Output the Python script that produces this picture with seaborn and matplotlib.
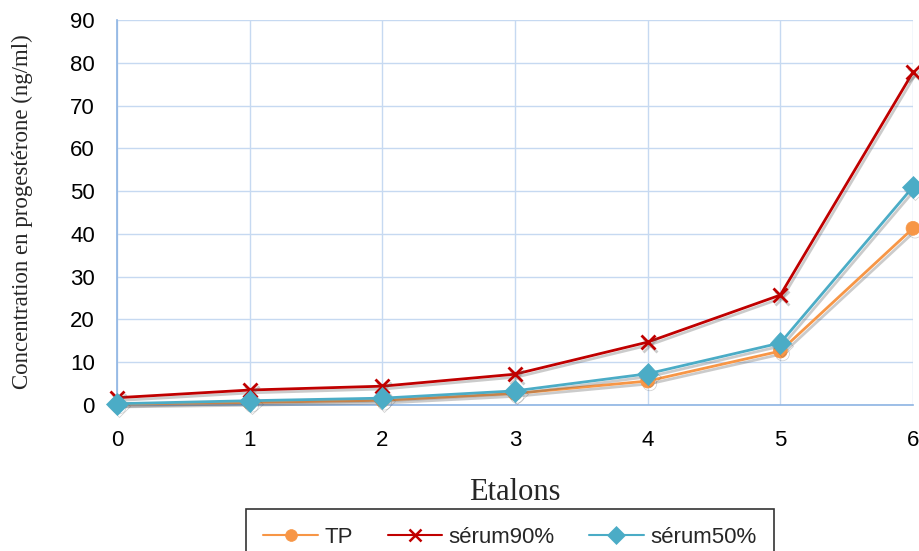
import matplotlib
matplotlib.use("Agg")
import matplotlib.pyplot as plt
import matplotlib.patheffects as pe
from matplotlib.lines import Line2D
import seaborn as sns
import pandas as pd

# Standards (étalons) and measured progesterone concentrations (ng/ml)
etalons = [0, 1, 2, 3, 4, 5, 6]
tp = [0.2, 0.6, 1.1, 2.7, 5.6, 12.6, 41.3]
serum90 = [1.7, 3.5, 4.4, 7.2, 14.7, 25.7, 77.8]
serum50 = [0.3, 1.0, 1.6, 3.3, 7.3, 14.5, 51.0]

series_names = ["TP", "sérum90%", "sérum50%"]
series_colors = ["#F79646", "#C00000", "#4BACC6"]
series_markers = ["o", "x", "D"]
marker_sizes = [10, 10, 11]

df = pd.concat([
    pd.DataFrame({"Etalons": etalons, "value": vals, "serie": name})
    for name, vals in zip(series_names, [tp, serum90, serum50])
])

sns.set_theme(style="white")
plt.rcParams["font.family"] = ["Liberation Sans", "DejaVu Sans"]

fig = plt.figure(figsize=(9.2, 5.51), dpi=100)
ax = fig.add_axes([117 / 920, 1 - 405 / 551, (913 - 117) / 920, (405 - 20) / 551])

shadow = [pe.SimpleLineShadow(offset=(1.5, -2), shadow_color="#555555", alpha=0.3),
          pe.Normal()]

for name, color, marker, ms in zip(series_names, series_colors, series_markers, marker_sizes):
    sub = df[df["serie"] == name]
    sns.lineplot(data=sub, x="Etalons", y="value", ax=ax, color=color,
                 marker=marker, markersize=ms, linewidth=2,
                 markeredgecolor=color, markeredgewidth=2 if marker == "x" else 0.5,
                 legend=False, clip_on=False, zorder=3,
                 path_effects=shadow)

ax.set_xlim(0, 6)
ax.set_ylim(0, 90)
ax.set_xticks(etalons)
ax.set_yticks(range(0, 91, 10))
ax.grid(True, color="#C6D9F1", linewidth=1)
ax.tick_params(axis="both", length=0, labelsize=16, colors="#000000")
ax.tick_params(axis="x", pad=18)
ax.tick_params(axis="y", pad=16)
for side in ["top", "right"]:
    ax.spines[side].set_visible(False)
for side in ["left", "bottom"]:
    ax.spines[side].set_color("#8EB4E3")
    ax.spines[side].set_linewidth(1.2)

ax.set_xlabel("Etalons", fontfamily="Liberation Serif", fontsize=22)
ax.xaxis.set_label_coords((515 - 117) / (913 - 117), -(493 - 405) / (405 - 20), transform=ax.transAxes)
ax.xaxis.label.set_verticalalignment("center")
ax.set_ylabel("Concentration en progestérone (ng/ml)", fontfamily="Liberation Serif",
              fontsize=16.5)
ax.yaxis.set_label_coords(-(117 - 22) / (913 - 117), (405 - 212) / (405 - 20), transform=ax.transAxes)
ax.yaxis.label.set_verticalalignment("center")

handles = [
    Line2D([], [], color=c, marker=m, markersize=ms * 0.85, linewidth=1.5,
           markeredgecolor=c, markeredgewidth=1.8 if m == "x" else 0.5)
    for c, m, ms in zip(series_colors, series_markers, marker_sizes)
]
leg = fig.legend(handles, series_names, loc="upper center", bbox_to_anchor=(510 / 920, 1 - 498 / 551),
                 ncol=3, frameon=True, fancybox=False, edgecolor="black",
                 fontsize=16, handlelength=2.45, columnspacing=1.55, borderpad=0.8,
                 handletextpad=0.3)
leg.get_frame().set_linewidth(1.2)

fig.savefig("out.png", dpi=100)
